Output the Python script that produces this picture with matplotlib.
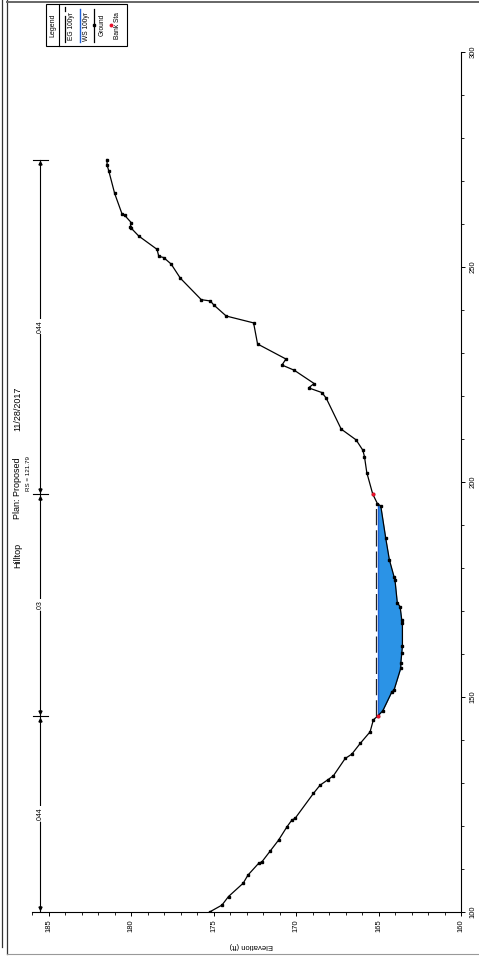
import numpy as np
import matplotlib
matplotlib.use("Agg")
import matplotlib.pyplot as plt
from matplotlib.patches import Rectangle
from matplotlib.ticker import MultipleLocator

plt.rcParams['font.family'] = ['Liberation Sans', 'DejaVu Sans']

# Cross section ground survey: station (ft) and elevation (ft)
station = [100.0, 101.6, 103.6, 106.7, 108.6, 111.3, 111.7, 114.2, 116.7, 119.8,
           121.4, 121.8, 127.6, 129.5, 130.7, 131.7, 135.7, 136.7, 139.2, 141.9,
           144.7, 145.6, 146.8, 151.2, 151.6, 156.7, 157.8, 160.2, 161.9, 167.1,
           167.9, 171.0, 171.9, 177.2, 178.0, 181.9, 186.9, 194.4, 195.0, 197.2,
           202.2, 205.9, 207.4, 209.8, 212.3, 219.5, 220.8, 221.9, 222.9, 226.0,
           227.2, 228.6, 232.1, 237.0, 238.6, 241.2, 242.1, 242.4, 247.4, 250.7,
           252.2, 252.5, 254.1, 257.2, 259.0, 259.4, 260.3, 262.0, 262.3, 267.1,
           272.4, 273.7, 275.0]
ground = [175.24, 174.49, 174.09, 173.20, 172.91, 172.27, 172.06, 171.56, 171.06, 170.55,
          170.25, 170.05, 168.94, 168.54, 168.09, 167.73, 167.02, 166.62, 166.11, 165.51,
          165.31, 165.04, 164.74, 164.19, 164.06, 163.65, 163.65, 163.59, 163.55, 163.55,
          163.59, 163.69, 163.86, 164.00, 164.06, 164.34, 164.56, 164.86, 165.07, 165.35,
          165.71, 165.85, 165.95, 166.36, 167.26, 168.17, 168.43, 169.24, 168.90, 170.11,
          170.85, 170.61, 172.33, 172.57, 174.23, 174.99, 175.19, 175.74, 177.01, 177.57,
          178.02, 178.32, 178.42, 179.53, 179.98, 180.04, 179.98, 180.38, 180.54, 180.99,
          181.35, 181.45, 181.45]

bank_sta = [145.6, 197.2]
ws_elev = 165.02      # WS 100yr
eg_elev = 165.14      # EG 100yr

n_labels = ['.044', '.03', '.044']
n_breaks = [100.0, 145.6, 197.2, 275.0]

elev_ticks = [160, 165, 170, 175, 180, 185]
sta_ticks = [100, 150, 200, 250, 300]

title_parts = ['Hilltop', 'Plan: Proposed', '11/28/2017']
rs_label = 'RS = 121.79'
legend_labels = ['EG 100yr', 'WS 100yr', 'Ground', 'Bank Sta']

W, H = 479, 956
fig = plt.figure(figsize=(W / 100, H / 100), dpi=100)
fig.patch.set_facecolor('white')

# Page is printed sideways: elevation runs along the bottom, station up the right side
ax = fig.add_axes([32 / W, 44 / H, 429 / W, 860 / H])
ax.set_xlim(186.0, 160.0)
ax.set_ylim(100, 300)
ax.patch.set_alpha(0)
for side in ('top', 'left'):
    ax.spines[side].set_visible(False)
for side in ('bottom', 'right'):
    ax.spines[side].set_linewidth(0.8)
ax.yaxis.tick_right()
ax.set_xticks(elev_ticks)
ax.set_yticks(sta_ticks)
ax.xaxis.set_minor_locator(MultipleLocator(1))
ax.yaxis.set_minor_locator(MultipleLocator(10))
ax.tick_params(which='major', direction='out', length=3, width=0.7, labelsize=5.5, pad=2)
ax.tick_params(which='minor', direction='out', length=1.8, width=0.6)
ax.tick_params(axis='x', labelrotation=90)
ax.tick_params(axis='y', labelrotation=90, pad=3)
for lab in ax.get_yticklabels():
    lab.set_va('center')

st = np.array(station)
gr = np.array(ground)

# Wetted area under the water surface
ax.fill_betweenx(st, gr, ws_elev, where=gr <= ws_elev, interpolate=True,
                 color='#2b93e6', lw=0, zorder=2)

# Water surface limits where it meets the ground
below = (gr < ws_elev).astype(int)
idx = np.where(np.diff(below) != 0)[0]
cross = [st[i] + (ws_elev - gr[i]) / (gr[i + 1] - gr[i]) * (st[i + 1] - st[i]) for i in idx]
s_left, s_right = cross[0], cross[-1]

ax.plot([ws_elev, ws_elev], [s_left, s_right], color='#1d5fd6', lw=1.0, zorder=3)
ax.plot([eg_elev, eg_elev], [s_left, s_right], color='#222222', lw=0.9,
        dashes=(13, 4), zorder=3)

ax.plot(gr, st, color='black', lw=0.9, marker='s', ms=1.6, zorder=4)

bank_elev = np.interp(bank_sta, st, gr)
ax.plot(bank_elev, bank_sta, 'o', color='#e8102a', ms=2.8, mec='none', zorder=5)

# Manning's n segments
n_x = 185.5
ax.plot([n_x, n_x], [n_breaks[0], n_breaks[-1]], color='black', lw=0.8, zorder=3)
for b in n_breaks[1:]:
    ax.plot([185.95, 185.05], [b, b], color='black', lw=0.8, zorder=3)
for i, lab in enumerate(n_labels):
    s0, s1 = n_breaks[i], n_breaks[i + 1]
    ax.plot([n_x], [s1 - 0.9], marker='^', color='black', ms=2.2, zorder=4)
    ax.plot([n_x], [s0 + 0.9], marker='v', color='black', ms=2.2, zorder=4)
    ax.text(n_x, (s0 + s1) / 2, lab, rotation=90, ha='center', va='center',
            fontsize=5, zorder=5,
            bbox=dict(facecolor='white', edgecolor='none', pad=0.6))

# Page overlay in pixel units for frame, title and legend
ov = fig.add_axes([0, 0, 1, 1])
ov.set_xlim(0, W)
ov.set_ylim(H, 0)
ov.axis('off')

ov.plot([2, 2], [0, 947], color='#333333', lw=0.9)
ov.plot([7, 7], [0, 954], color='#333333', lw=0.9)
ov.plot([7, W], [2, 2], color='#666666', lw=1.4)
ov.plot([7, W], [954, 954], color='#999999', lw=0.8)

ov.text(18, 555, title_parts[0], rotation=90, ha='center', va='center', fontsize=6.5)
ov.text(18, 488, title_parts[1], rotation=90, ha='center', va='center', fontsize=6.5)
ov.text(18, 409, title_parts[2], rotation=90, ha='center', va='center', fontsize=6.5)
ov.text(29, 474, rs_label, rotation=90, ha='center', va='center', fontsize=4.5)

ov.text(251, 946, 'Elevation (ft)', rotation=180, ha='center', va='center', fontsize=5.5)

# Legend
ov.add_patch(Rectangle((46, 4), 81, 42, facecolor='white', edgecolor='black', lw=0.8))
ov.plot([59, 59], [4, 46], color='black', lw=0.8)
ov.text(53, 25, 'Legend', rotation=90, ha='center', va='center', fontsize=5)
ov.plot([65, 65], [7, 11], color='black', lw=0.9)
ov.plot([65, 65], [16, 42], color='black', lw=0.9)
ov.text(72, 26, legend_labels[0], rotation=90, ha='center', va='center', fontsize=4.8)
ov.plot([80, 80], [9, 42], color='#1d5fd6', lw=1.0)
ov.text(87, 26, legend_labels[1], rotation=90, ha='center', va='center', fontsize=4.8)
ov.plot([94, 94], [9, 42], color='black', lw=0.9)
ov.plot([94], [25], marker='s', color='black', ms=1.6)
ov.text(102, 25, legend_labels[2], rotation=90, ha='center', va='center', fontsize=4.8)
ov.plot([111], [25], marker='o', color='#e8102a', ms=2.8, mec='none')
ov.text(118, 26, legend_labels[3], rotation=90, ha='center', va='center', fontsize=4.8)

fig.savefig('out.png', dpi=100)
